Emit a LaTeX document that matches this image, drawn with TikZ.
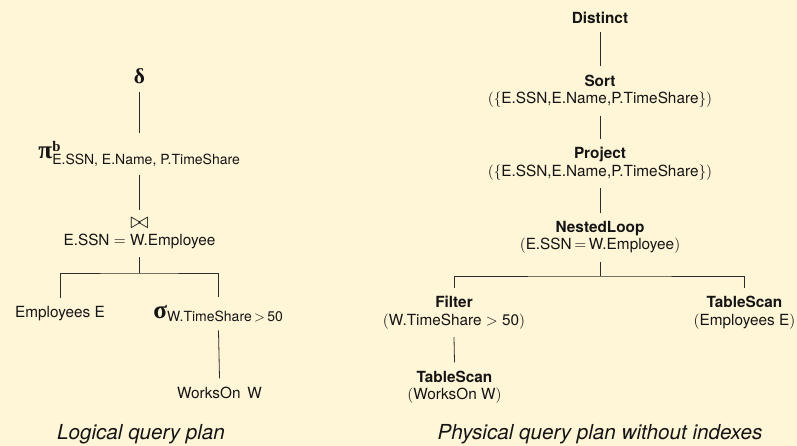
\RequirePackage{fix-cm}
\documentclass[tikz,border=0pt]{standalone}
\usepackage{amsmath}
\usepackage{fontspec}
\setmainfont{TeX Gyre Heros}
\setsansfont{TeX Gyre Heros}
\newfontfamily\grk{Liberation Serif}
% bold upright greek operator letters, set a little larger than the text
\newcommand{\gsym}[2][19]{\text{\grk\bfseries\fontsize{#1}{#1}\selectfont #2}}
\definecolor{paper}{RGB}{255,246,216}
\definecolor{ink}{RGB}{20,20,20}
\begin{document}
\begin{tikzpicture}[x=0.75pt,y=-0.75pt,
  lbl/.style={inner sep=6pt, text=ink, font=\fontsize{11.5}{13.1}\selectfont},
  op/.style={lbl, align=center},
  algebra/.style={inner sep=6pt, text=ink, font=\fontsize{15}{17}\selectfont},
  edge/.style={draw=ink!90, line width=0.6pt},
  caption/.style={text=ink, font=\fontsize{15.5}{18}\selectfont\itshape, anchor=base}]

% paper
\fill[paper] (0,0) rectangle (797,446);
\useasboundingbox (0,0) rectangle (797,446);

% ---------- logical plan ----------
\node[algebra] (dist) at (139.5,76) {$\gsym[16]{δ}$};
\node[algebra] (proj) at (139.5,154) {$\gsym{π}^{\gsym[11]{b}}_{\text{E.SSN, E.Name, P.TimeShare}}$};
\node[op]  (join) at (139.5,233.5) {{\fontsize{17}{15}\selectfont$\bowtie$}\\E.SSN $=$ W.Employee};
\node[lbl] (emp)  at (60,314) {Employees E};
\node[algebra] (sel)  at (218.5,313.5) {$\gsym{σ}_{\text{W.TimeShare}\,{>}\,\text{50}}$};
\node[lbl] (works) at (219.5,392.5) {WorksOn\, W};
\coordinate (jbar) at (139.5,273);

\draw[edge] (dist.south) -- (proj.north);
\draw[edge] (proj.south) -- (join.north);
\draw[edge] (join.south) -- (jbar);
\draw[edge] (emp.north) |- (jbar) -| (sel.north);
\draw[edge] (sel.south) -- (works.north);

\node[caption] (lcap) at (141,439) {Logical query plan};

% ---------- physical plan ----------
\node[op] (pdist) at (600,17.5) {\textbf{Distinct}};
\node[op] (psort) at (600,91) {\textbf{Sort}\\$(\{\text{E.SSN,E.Name,P.TimeShare}\})$};
\node[op] (pproj) at (600,163.5) {\textbf{Project}\\$(\{\text{E.SSN,E.Name,P.TimeShare}\})$};
\node[op] (ploop) at (600,237.5) {\textbf{NestedLoop}\\$(\text{E.SSN}\,{=}\,\text{W.Employee})$};
\node[op] (pfilt) at (454,312.5) {\textbf{Filter}\\$(\text{W.TimeShare} > \text{50})$};
\node[op] (pscanE) at (744.5,312.5) {\textbf{TableScan}\\$(\text{Employees E})$};
\node[op] (pscanW) at (454.5,387) {\textbf{TableScan}\\$(\text{WorksOn W})$};
\coordinate (pbar) at (600,276);

\draw[edge] (pdist.south) -- (psort.north);
\draw[edge] (psort.south) -- (pproj.north);
\draw[edge] (pproj.south) -- (ploop.north);
\draw[edge] (ploop.south) -- (pbar);
\draw[edge] (pfilt.north) |- (pbar) -| (pscanE.north);
\draw[edge] (pfilt.south) -- (pscanW.north);

\node[caption] (pcap) at (600,439) {Physical query plan without indexes};
\end{tikzpicture}
\end{document}
